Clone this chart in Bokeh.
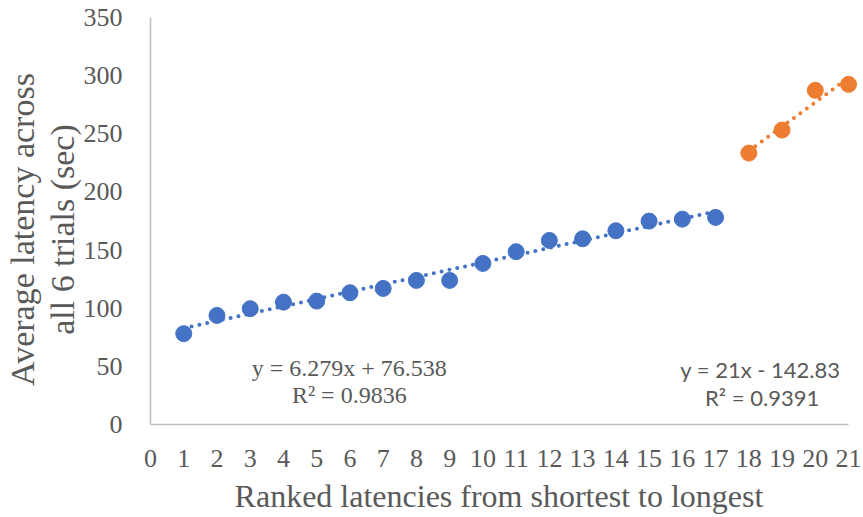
from bokeh.plotting import figure
from bokeh.models import Label, FixedTicker, Range1d
from bokeh.embed import file_html
from bokeh.resources import INLINE

# Ranked average latencies (sec), grouped into two runs
rank_a = [1, 2, 3, 4, 5, 6, 7, 8, 9, 10, 11, 12, 13, 14, 15, 16, 17]
latency_a = [78.1, 93.8, 99.6, 105.2, 106.1, 113.3, 117.0, 123.9, 123.9,
             138.5, 148.6, 158.3, 159.7, 166.6, 174.9, 176.6, 178.1]
rank_b = [18, 19, 20, 21]
latency_b = [233.4, 253.2, 287.4, 292.5]

# Linear trendline coefficients: slope, intercept, R²
fit_a = [6.279, 76.538, 0.9836]
fit_b = [21.0, -142.83, 0.9391]

x_ticks = list(range(0, 22))
y_ticks = [0, 50, 100, 150, 200, 250, 300, 350]

BLUE = "#4472C4"
ORANGE = "#ED7D31"
TEXT = "#595959"
AXIS = "#BFBFBF"
SERIF = "Liberation Serif"
PAD = "\u00a0\u00a0"  # keeps titles centred on the 0..21 span rather than the padded frame

p = figure(width=863, height=517, output_backend="svg", toolbar_location=None,
           x_range=Range1d(0, 21.45), y_range=Range1d(0, 350),
           min_border_left=149, min_border_right=0,
           min_border_top=17, min_border_bottom=93)
p.outline_line_color = None
p.xgrid.visible = False
p.ygrid.visible = False
p.background_fill_color = "white"
p.border_fill_color = "white"

for ax in (p.xaxis[0], p.yaxis[0]):
    ax.axis_line_color = AXIS
    ax.axis_line_width = 1.5
    ax.major_tick_line_color = None
    ax.minor_tick_line_color = None
    ax.major_label_text_font = SERIF
    ax.major_label_text_font_size = "26px"
    ax.major_label_text_color = TEXT
    ax.axis_label_text_font = SERIF
    ax.axis_label_text_font_style = "normal"
    ax.axis_label_text_color = TEXT

p.xaxis[0].ticker = FixedTicker(ticks=x_ticks)
p.xaxis[0].bounds = (x_ticks[0], x_ticks[-1])
p.xaxis[0].major_label_standoff = 19
p.xaxis[0].axis_label = "Ranked latencies from shortest to longest" + PAD
p.xaxis[0].axis_label_text_font_size = "32px"
p.xaxis[0].axis_label_standoff = 8

p.yaxis[0].ticker = FixedTicker(ticks=y_ticks)
p.yaxis[0].major_label_standoff = 22
p.yaxis[0].axis_label = "Average latency across" + PAD + "\nall 6 trials (sec)" + PAD
p.yaxis[0].axis_label_text_font_size = "34px"
p.yaxis[0].axis_label_text_line_height = 1.07
p.yaxis[0].axis_label_standoff = 0


def trend(ranks, fit):
    xs = [ranks[0], ranks[-1]]
    ys = [fit[0] * x + fit[1] for x in xs]
    return xs, ys


def eq_text(fit):
    sign = "+" if fit[1] >= 0 else "-"
    return f"y = {fit[0]:g}x {sign} {abs(fit[1]):g}", f"R² = {fit[2]:.4f}"


p.scatter(rank_a, latency_a, size=16, fill_color=BLUE, line_color=BLUE)
p.scatter(rank_b, latency_b, size=16, fill_color=ORANGE, line_color=ORANGE)

xa, ya = trend(rank_a, fit_a)
p.line(xa, ya, line_color=BLUE, line_width=4, line_dash="0 8", line_cap="round")
xb, yb = trend(rank_b, fit_b)
p.line(xb, yb, line_color=ORANGE, line_width=4, line_dash="0 8", line_cap="round")

# Trendline equations
la1, la2 = eq_text(fit_a)
p.add_layout(Label(x=5.98, y=48.5, text=la1, text_align="center", text_baseline="middle",
                   text_font=SERIF, text_font_size="24px", text_color=TEXT))
p.add_layout(Label(x=5.98, y=25.5, text=la2, text_align="center", text_baseline="middle",
                   text_font=SERIF, text_font_size="24px", text_color=TEXT))
lb1, lb2 = eq_text(fit_b)
p.add_layout(Label(x=18.35, y=47.5, text=lb1, text_align="center", text_baseline="middle",
                   text_font="Lato", text_font_size="22px", text_color=TEXT))
p.add_layout(Label(x=18.40, y=23.5, text=lb2, text_align="center", text_baseline="middle",
                   text_font="Lato", text_font_size="22px", text_color=TEXT))

open("out.html", "w").write(file_html(p, INLINE))
